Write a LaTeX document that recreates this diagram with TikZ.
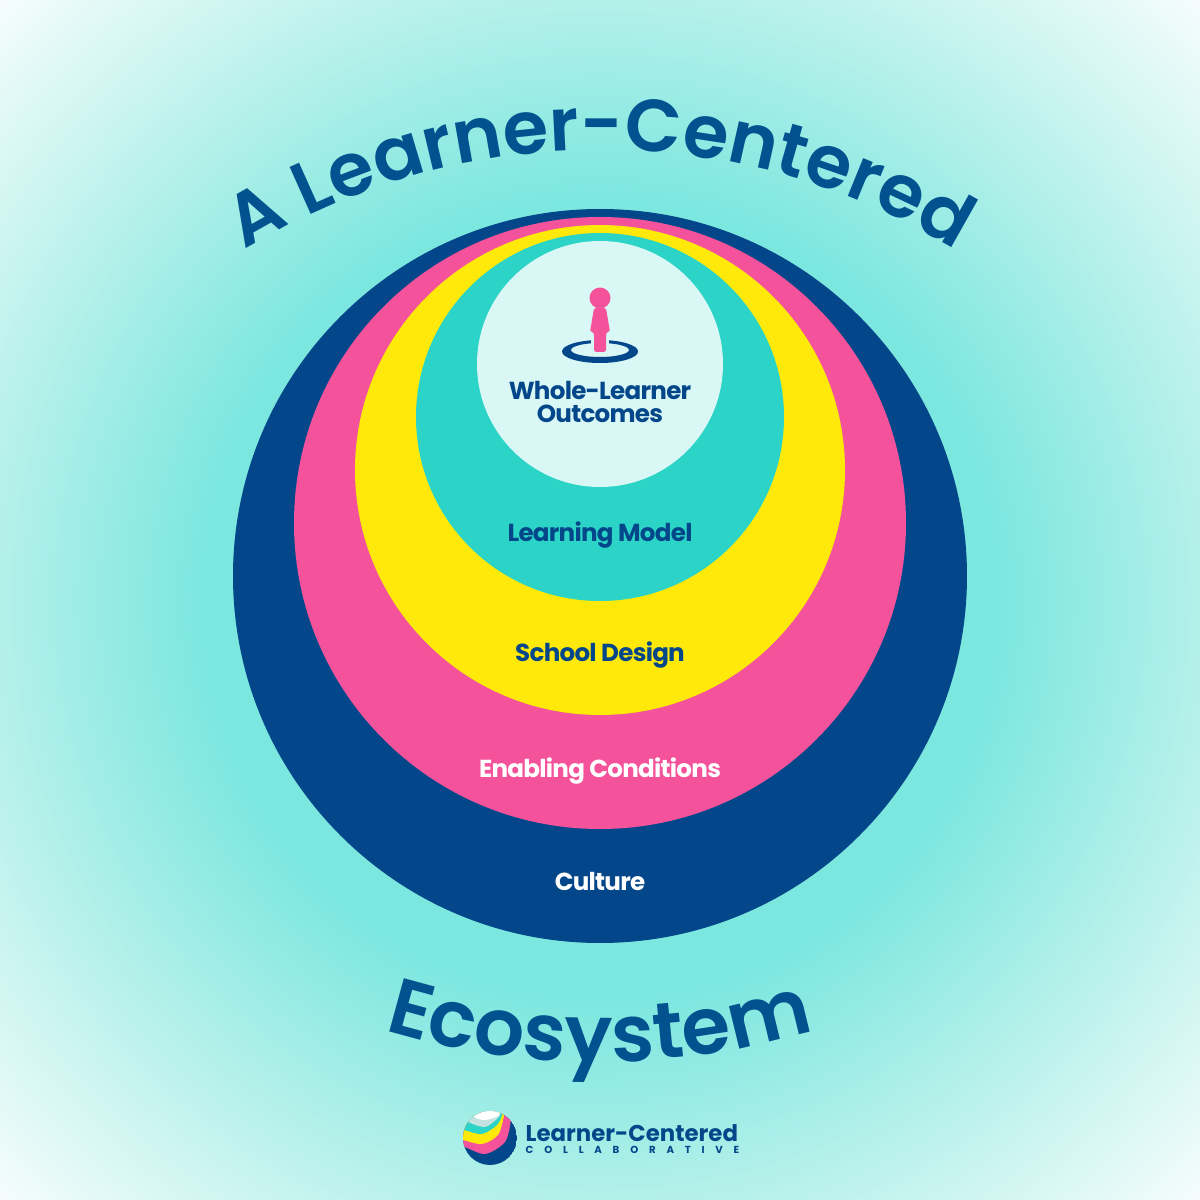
\documentclass[tikz,border=0pt]{standalone}
\usepackage{fontspec}
\usepackage{tikz}
\usetikzlibrary{decorations.text}
\setmainfont{Poppins}
\newfontfamily\titlefont{Poppins SemiBold}
\newfontfamily\labelfont[LetterSpace=-3]{Poppins Bold}
\newfontfamily\logofont{Poppins Bold}
\definecolor{lcnavy}{HTML}{03478A}
\definecolor{lctitle}{HTML}{02528F}
\definecolor{lcpink}{HTML}{F4539B}
\definecolor{lcyellow}{HTML}{FFE90A}
\definecolor{lcteal}{HTML}{2BD4C6}
\definecolor{lcpale}{HTML}{D9F7F4}
\definecolor{lcgrey}{HTML}{C4E3E0}
\definecolor{lcbgin}{HTML}{7CE7DF}
\definecolor{lcbgmid}{HTML}{B4F0EA}
\definecolor{lcbgout}{HTML}{F6FDFC}
\pgfdeclareradialshading{lcglow}{\pgfpointorigin}{
    color(0bp)=(lcbgin); color(10bp)=(lcbgin); color(15bp)=(lcbgmid); color(21.25bp)=(lcbgout); color(50bp)=(lcbgout)}
\tikzset{ringlabel/.style = {font=\labelfont\fontsize{7}{8}\selectfont, align=center, inner sep=0pt},
         curvedtitle/.style 2 args = {decorate, decoration={text along path, text align=center,
                                                      text={|\titlefont\fontsize{#1}{26}\selectfont\color{lctitle}|#2}}}}

\begin{document}
\begin{tikzpicture}
    \useasboundingbox (0, 0) rectangle (12, 12);
    \begin{scope}
        \clip (0, 0) rectangle (12, 12);
        \shade [shading=lcglow] (-4, -4) rectangle (16, 16);
    \end{scope}

    \path [curvedtitle={21}{A Learner-Centered}] (2.45, 9.50) arc (121.5:58.5:6.8);
    \path [curvedtitle={22.5}{Ecosystem}] (3.88, 1.69) arc (253.4:286.6:7.4);

    \fill [lcnavy] (6, 6.24) circle (3.67);
    \fill [lcpink] (6, 6.77) circle (3.06);
    \fill [lcyellow] (6, 7.30) circle (2.45);
    \fill [lcteal] (6, 7.83) circle (1.84);
    \fill [lcpale] (6, 8.36) circle (1.23);

    \fill [lcnavy, even odd rule] (6, 8.485) ellipse (0.38 and 0.115) (6, 8.50) ellipse (0.29 and 0.07);
    \fill [lcpale] (5.91, 8.45) rectangle (6.09, 8.70);
    \fill [lcpink] (6, 9.02) circle (0.105);
    \fill [lcpink, rounded corners=0.5] (5.94, 8.92) -- (6.06, 8.92) -- (6.10, 8.68) -- (6.06, 8.68)
        -- (6.06, 8.48) -- (5.94, 8.48) -- (5.94, 8.68) -- (5.90, 8.68) -- cycle;

    \node (outcomes) [ringlabel, text=lcnavy] at (6, 7.98) {Whole-Learner\\[-1.5pt]Outcomes};
    \node (model) [ringlabel, text=lcnavy] at (6, 6.65) {Learning Model};
    \node (design) [ringlabel, text=lcnavy] at (6, 5.45) {School Design};
    \node (conditions) [ringlabel, text=white] at (6, 4.29) {Enabling Conditions};
    \node (culture) [ringlabel, text=white] at (6, 3.19) {Culture};

    % logo
    \begin{scope}
        \clip (4.90, 0.62) circle (0.27);
        \fill [lcnavy] (4.90, 0.62) circle (0.27);
        \fill [lcpink] plot [smooth] coordinates {(4.55, 0.50) (4.64, 0.53) (4.85, 0.46) (5.05, 0.58) (5.11, 0.80) (5.12, 0.95)} -- (4.5, 0.95) -- cycle;
        \fill [lcyellow] plot [smooth] coordinates {(4.55, 0.62) (4.63, 0.60) (4.82, 0.56) (4.98, 0.65) (5.04, 0.84) (5.05, 0.95)} -- (4.5, 0.95) -- cycle;
        \fill [lcteal] plot [smooth] coordinates {(4.55, 0.72) (4.64, 0.70) (4.82, 0.66) (4.97, 0.75) (5.02, 0.85) (5.03, 0.95)} -- (4.5, 0.95) -- cycle;
        \fill [lcgrey] plot [smooth] coordinates {(4.60, 0.84) (4.68, 0.78) (4.85, 0.73) (4.98, 0.82) (5.00, 0.86) (5.02, 0.95)} -- (4.5, 0.95) -- cycle;
        \fill [white] plot [smooth] coordinates {(4.68, 0.90) (4.74, 0.83) (4.85, 0.80) (4.98, 0.84) (5.04, 0.92)} -- (4.9, 1) -- cycle;
    \end{scope}
    \node (logoname) [anchor=base west, inner sep=0pt, text=lcnavy, font=\logofont\fontsize{6.5}{8}\selectfont] at (5.25, 0.59) {Learner-Centered};
    \node (logosub) [anchor=base west, inner sep=0pt, text=lcnavy, font=\logofont\fontsize{2.9}{3}\selectfont\addfontfeature{LetterSpace=106}] at (5.25, 0.46) {COLLABORATIVE};
\end{tikzpicture}
\end{document}
